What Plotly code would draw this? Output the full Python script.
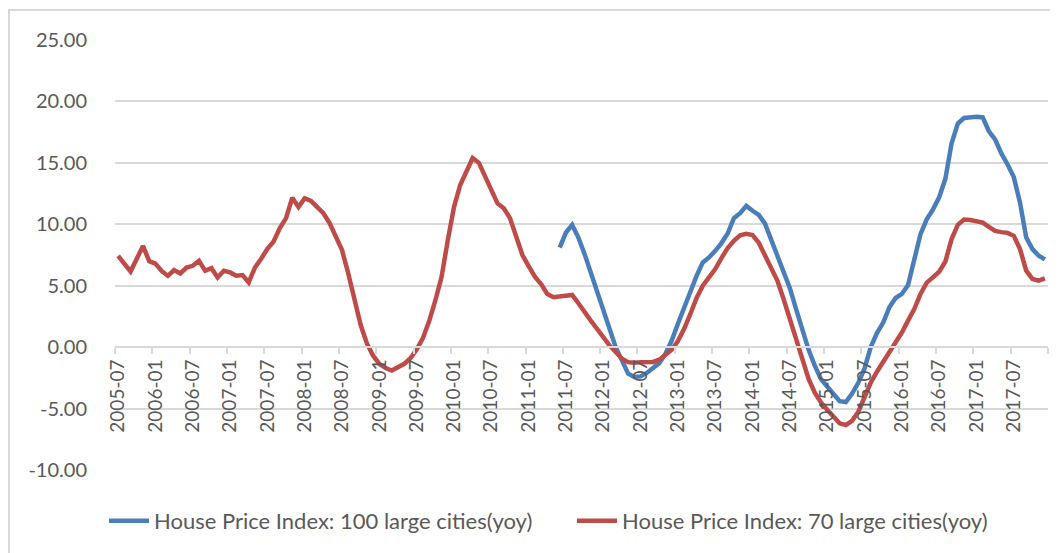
import plotly.graph_objects as go

# Months 2005-07 .. 2017-12 (150 monthly categories)
start_year, start_month, n_months = 2005, 7, 150
months = []
y, m = start_year, start_month
for _ in range(n_months):
    months.append(f"{y}-{m:02d}")
    m += 1
    if m > 12:
        m = 1
        y += 1

hpi70 = [
    7.43, 6.8, 6.16, 7.2, 8.24, 7.0, 6.8, 6.2, 5.8, 6.27,
    6.0, 6.48, 6.62, 7.03, 6.22, 6.43, 5.67, 6.22, 6.08, 5.81,
    5.87, 5.27, 6.48, 7.2, 8.0, 8.6, 9.7, 10.5, 12.16, 11.4,
    12.12, 11.9, 11.4, 10.9, 10.1, 9.1, 7.9, 6.0, 3.8, 1.8,
    0.3, -0.7, -1.36, -1.7, -1.9, -1.66, -1.36, -0.9, -0.2, 0.73,
    2.1, 3.8, 5.7, 8.7, 11.4, 13.2, 14.4, 15.4, 15.0, 13.9,
    12.8, 11.7, 11.3, 10.5, 9.0, 7.5, 6.6, 5.73, 5.14, 4.33,
    4.06, 4.14, 4.19, 4.25, 3.57, 2.81, 2.16, 1.49, 0.76, 0.14,
    -0.4, -0.94, -1.22, -1.27, -1.22, -1.22, -1.2, -1.02, -0.67, -0.21,
    0.49, 1.49, 2.7, 4.0, 5.0, 5.68, 6.36, 7.25, 8.06, 8.65,
    9.1, 9.22, 9.13, 8.5, 7.43, 6.4, 5.4, 3.9, 2.3, 0.4,
    -1.2, -2.56, -3.7, -4.5, -5.1, -5.7, -6.2, -6.35, -6.0, -5.25,
    -4.05, -2.9, -2.0, -1.2, -0.32, 0.35, 1.19, 2.16, 3.1, 4.33,
    5.25, 5.68, 6.14, 6.97, 8.8, 9.95, 10.38, 10.35, 10.27, 10.14,
    9.79, 9.46, 9.36, 9.3, 9.06, 7.98, 6.22, 5.55, 5.41, 5.6,
]

# 100-city index starts 2011-06 (index 71)
hpi100 = [None] * 71 + [
    8.1, 9.33, 9.95, 8.92, 7.57, 6.08, 4.6, 2.98, 1.35,
    0.0, -1.08, -2.16, -2.43, -2.38, -2.1, -1.75, -1.3, -0.54, 0.54,
    1.9, 3.24, 4.6, 5.8, 6.9, 7.3, 7.84, 8.47, 9.25, 10.5,
    10.9, 11.5, 11.1, 10.76, 10.05, 8.79, 7.41, 6.14, 4.8, 3.1,
    1.35, -0.2, -1.5, -2.6, -3.2, -3.86, -4.4, -4.47, -3.78, -2.9,
    -1.75, 0.0, 1.14, 2.0, 3.24, 4.0, 4.33, 5.06, 6.98, 9.2,
    10.4, 11.2, 12.2, 13.7, 16.6, 18.2, 18.65, 18.73, 18.75, 18.7,
    17.57, 16.9, 15.77, 14.87, 13.84, 11.76, 8.92, 7.98, 7.44, 7.14,
]

y_ticks = [-10, -5, 0, 5, 10, 15, 20, 25]
y_ticktext = [f"{v:.2f}" for v in y_ticks]

idx = list(range(n_months))
label_idx = list(range(0, n_months, 6))
label_text = [months[i] for i in label_idx]
boundary_ticks = [i - 0.5 for i in range(0, n_months + 1, 6)]

GRID = "#d9d9d9"
TXT = "#595959"
FONT = "Lato"

fig = go.Figure()
fig.add_trace(go.Scatter(
    x=idx, y=hpi100, mode="lines",
    name="House Price Index: 100 large cities(yoy)",
    line=dict(color="#4a7ebb", width=4.5), connectgaps=False,
))
fig.add_trace(go.Scatter(
    x=idx, y=hpi70, mode="lines",
    name="House Price Index: 70 large cities(yoy)",
    line=dict(color="#be4b48", width=4.5),
))

# page body has an 8px margin; figure is sized to fit the window
W, H = 1050, 545
ML, MT, MR = 107, 32, 10
PH = 430
MB = H - MT - PH
PW = W - ML - MR

y_min, y_max = -10, 25
fig.update_layout(
    width=W, height=H,
    margin=dict(l=ML, r=MR, t=MT, b=MB),
    paper_bgcolor="white", plot_bgcolor="white",
    font=dict(family=FONT, color=TXT),
    showlegend=True,
    legend=dict(
        orientation="h", x=(104 - 115) / PW, xanchor="left",
        y=-(521 - 470) / PH, yanchor="middle",
        font=dict(family=FONT, size=22, color=TXT),
        itemwidth=40, traceorder="normal",
        entrywidth=466 - 53, entrywidthmode="pixels",
    ),
    xaxis=dict(
        range=[-0.5, n_months - 0.5],
        tickmode="array", tickvals=label_idx, ticktext=label_text,
        tickangle=-90, ticks="",
        tickfont=dict(family=FONT, size=19, color=TXT),
        showgrid=False, zeroline=False,
        showline=True, linecolor=GRID, linewidth=1.5,
        anchor="free", position=(0 - y_min) / (y_max - y_min),
        minor=dict(tickmode="array", tickvals=boundary_ticks, ticks="outside",
                   ticklen=6, tickcolor=GRID, tickwidth=1.5, showgrid=False),
        ticklabelstandoff=4,
    ),
    yaxis=dict(
        range=[y_min, y_max],
        tickmode="array", tickvals=y_ticks, ticktext=y_ticktext,
        tickfont=dict(family=FONT, size=20, color=TXT),
        showgrid=True, gridcolor=GRID, gridwidth=1.5,
        zeroline=False, showline=False, ticks="",
        ticklabelstandoff=27,
    ),
    shapes=[dict(
        type="rect", xref="paper", yref="paper",
        x0=(9 - 115) / PW, x1=1.5, y0=-1.0, y1=1 + (40 - 10) / PH,
        line=dict(color=GRID, width=2), fillcolor="rgba(0,0,0,0)", layer="below",
    )],
)

fig.write_html("out.html")
